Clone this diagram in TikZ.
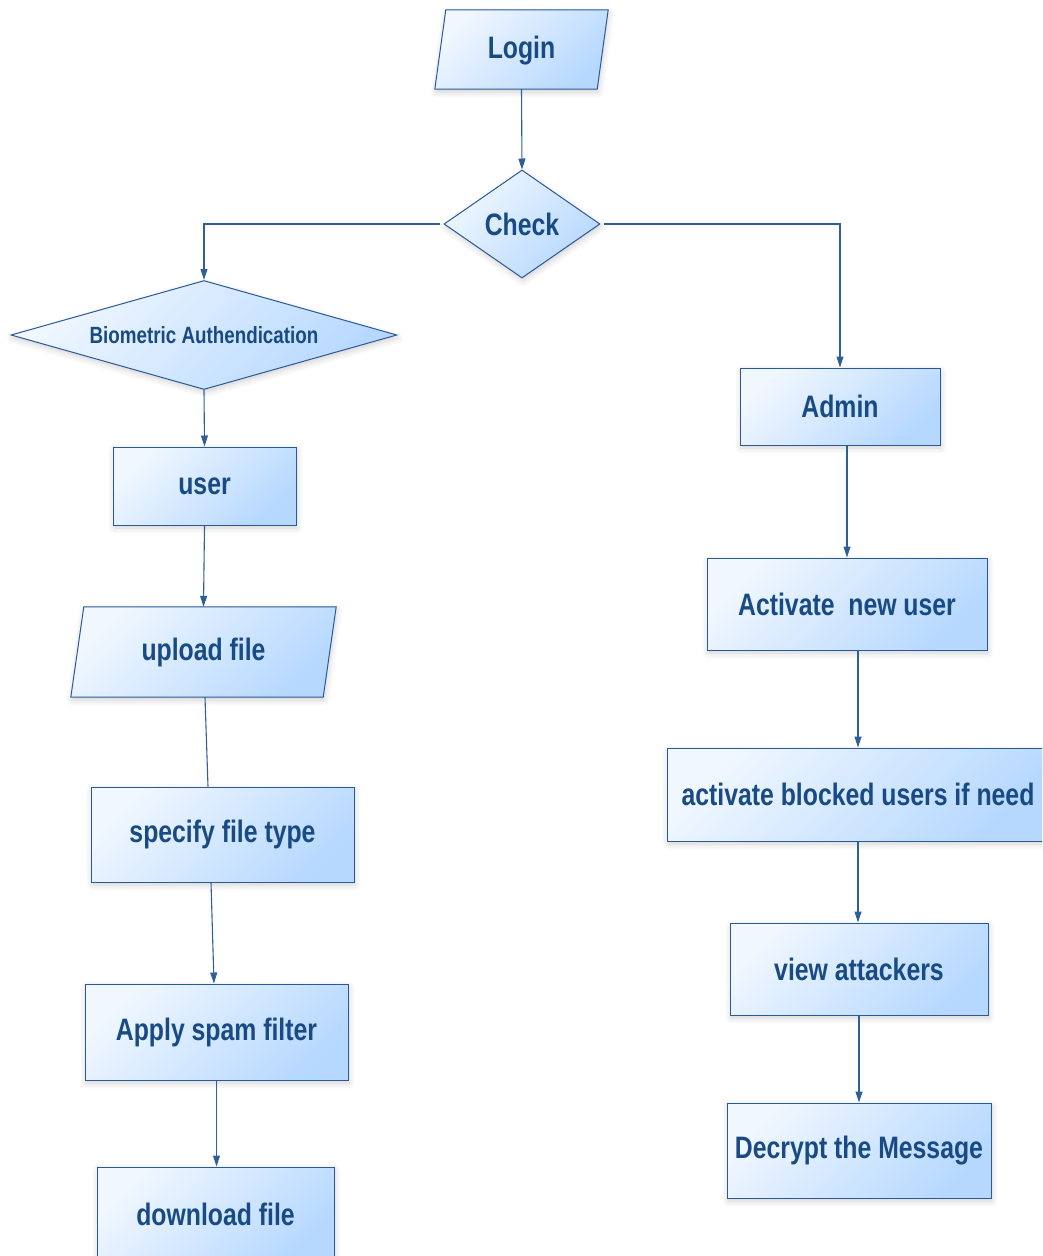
\documentclass[tikz,border=0pt]{standalone}
\usepackage{fontspec}
\newfontfamily\nfont[FakeStretch=0.8]{Liberation Sans}
\usetikzlibrary{shapes.geometric,arrows.meta,shadows.blur}
\definecolor{txtc}{HTML}{184A84}
\definecolor{edgec}{HTML}{2A5A96}
\definecolor{lnc}{HTML}{2F5F98}
\definecolor{fillA}{HTML}{F0F7FF}
\definecolor{fillB}{HTML}{B6D8FF}
\begin{document}
\begin{tikzpicture}[x=1pt,y=-1pt,
  shd/.style={blur shadow={shadow blur steps=6, shadow xshift=1pt, shadow yshift=-3pt, shadow opacity=18, shadow blur radius=6pt}},
  boxfill/.style={draw=edgec, line width=1pt, top color=fillA, bottom color=fillB, shading angle=45},
  lbl/.style={text=txtc, font=\nfont\bfseries\fontsize{31}{35}\selectfont, inner sep=0pt},
  procbox/.style={boxfill, shd, lbl, rectangle, minimum width=#1},
  dec/.style={boxfill, shd, lbl, diamond, inner sep=0pt},
  ghost/.style={lbl, rectangle, minimum width=#1},
  conn/.style={draw=lnc, line width=1.1pt},
  arr/.style={conn, -{Triangle[length=11pt,width=7pt]}}
]
\useasboundingbox (0,0) rectangle (1042,1256);
\clip (0,0) rectangle (1042,1256);

% parallelogram Login
\node[ghost=162, minimum height=79] (login) at (521.5,49.5) {};
\path[boxfill, shd] ([xshift=-5.5pt]login.south west) -- ([xshift=-5.5pt]login.south east)
  -- ([xshift=5.5pt]login.north east) -- ([xshift=5.5pt]login.north west) -- cycle;
\node[lbl] at ([yshift=-1.5pt]login.center) {Login};

\node[dec, minimum width=156, minimum height=108, aspect=1.44] (check) at (522,224) {Check};
\node[dec, minimum width=386, minimum height=109, aspect=3.54, font=\nfont\bfseries\fontsize{23.5}{27}\selectfont] (bio) at (204,335) {Biometric Authendication};

\node[procbox=200, minimum height=77] (admin) at (840,406.5) {Admin};
\node[procbox=183, minimum height=78] (user) at (204.5,486) {user};

% parallelogram upload file
\node[ghost=252, minimum height=90] (upload) at (203.5,652) {};
\path[boxfill, shd] ([xshift=-6.5pt]upload.south west) -- ([xshift=-6.5pt]upload.south east)
  -- ([xshift=6.5pt]upload.north east) -- ([xshift=6.5pt]upload.north west) -- cycle;
\node[lbl] at (upload.center) {upload file};

\node[procbox=263, minimum height=95] (spec) at (222.5,834.5) {specify file type};
\node[procbox=263, minimum height=96] (apply) at (216.5,1032) {Apply spam filter};
\node[procbox=237, minimum height=95] (down) at (215.5,1214.5) {download file};

\node[procbox=280, minimum height=92] (act) at (847,604) {Activate\ \ new user};
\node[procbox=382, minimum height=93] (blocked) at (858,794.5) {activate blocked users if need};
\node[procbox=258, minimum height=92] (view) at (859,969) {view attackers};
\node[procbox=264, minimum height=95] (decr) at (859,1150.5) {Decrypt the Message};

% connectors
\draw[arr] (login.south) -- (check.north);
\draw[arr] ([xshift=-4pt]check.west) -| (bio.north);
\draw[arr] ([xshift=3pt]check.east) -| (admin.north);
\draw[arr] (bio.south) -- (user.north);
\draw[arr] (user.south) -- (upload.north);
\draw[conn] ([xshift=1.5pt]upload.south) -- ([xshift=-14.5pt]spec.north);
\draw[arr] ([xshift=-11.5pt]spec.south) -- ([xshift=-2.5pt]apply.north);
\draw[arr] (apply.south) -- (apply.south |- down.north);

\draw[arr] (act.north |- admin.south) -- (act.north);
\draw[arr] (blocked.north |- act.south) -- (blocked.north);
\draw[arr] (blocked.south) -- (blocked.south |- view.north);
\draw[arr] (view.south) -- (view.south |- decr.north);
\end{tikzpicture}
\end{document}
